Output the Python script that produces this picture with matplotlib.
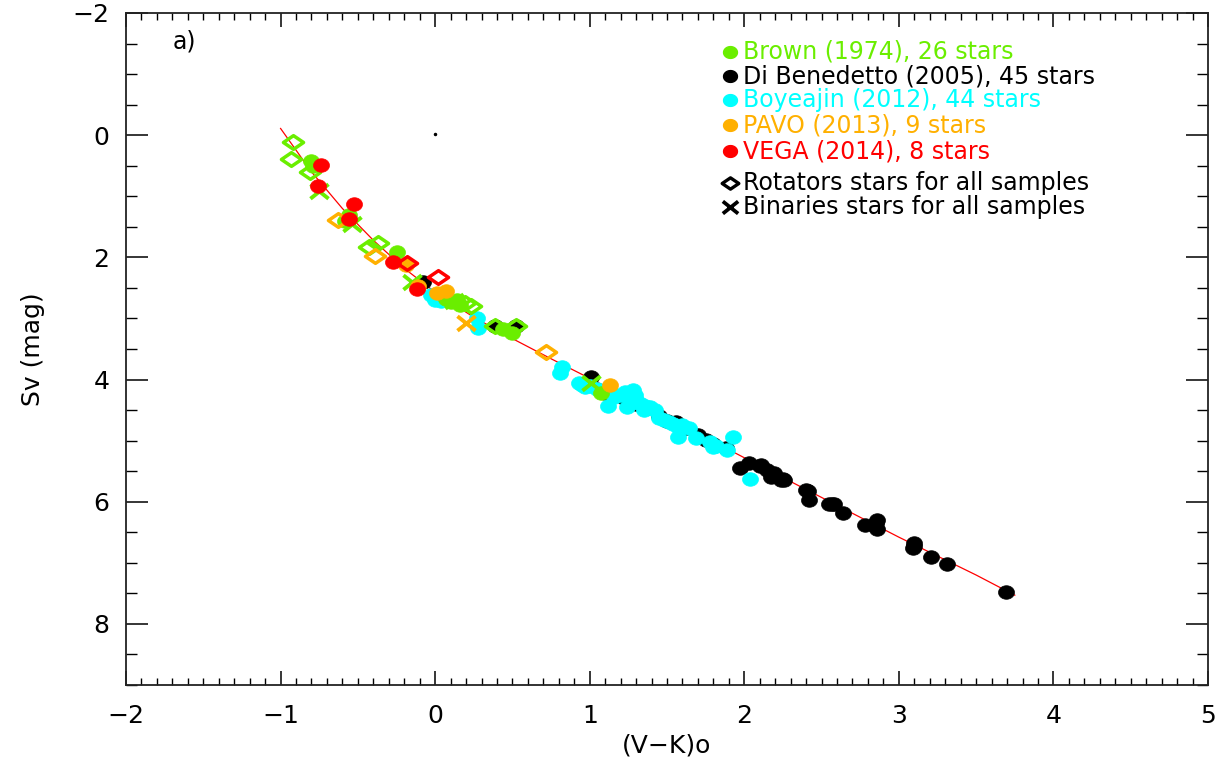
import numpy as np
import matplotlib
matplotlib.use("Agg")
import matplotlib.pyplot as plt
from matplotlib.path import Path
from matplotlib.ticker import MultipleLocator

plt.rcParams['font.family'] = ['DejaVu Sans']

# ---------------- data: (V-K)o colour and surface brightness Sv ----------------
# Brown (1974)
brown_dot_x = [-0.80, -0.56, -0.25, 0.14, 0.10, 0.50, 1.07, 0.44, 0.16, -0.58, -0.79, 0.07]
brown_dot_y = [0.42, 1.30, 1.91, 2.70, 2.73, 3.24, 4.22, 3.17, 2.78, 1.40, 0.50, 2.68]
brown_rot_x = [-0.92, -0.93, -0.81, -0.43, -0.37, 0.19, 0.39, 0.52, 0.23]
brown_rot_y = [0.11, 0.39, 0.61, 1.83, 1.76, 2.75, 3.12, 3.12, 2.80]
brown_bin_x = [-0.75, -0.15, 1.01, -0.54, 0.12]
brown_bin_y = [0.91, 2.40, 4.06, 1.45, 2.72]

# Di Benedetto (2005)
dib_dot_x = [-0.08, 0.39, 0.52, 1.01, 1.56, 1.75, 1.97, 2.03, 2.11, 2.15, 2.17, 2.19,
             2.24, 2.26, 2.40, 2.42, 2.55, 2.58, 2.64, 2.78, 2.86, 2.86, 3.10, 3.09,
             3.21, 3.31, 3.69, 2.10, 2.25, 2.41, 2.57, 2.85, 3.10,
             1.10, 1.22, 1.30, 1.37, 1.45, 1.50, 1.62, 1.70, 1.80, 1.88, 0.95, 1.27]
dib_dot_y = [2.40, 3.12, 3.12, 3.96, 4.69, 4.99, 5.45, 5.37, 5.40, 5.48, 5.59, 5.53,
             5.64, 5.64, 5.80, 5.97, 6.03, 6.03, 6.18, 6.38, 6.30, 6.44, 6.68, 6.76,
             6.90, 7.02, 7.47, 5.42, 5.62, 5.82, 6.04, 6.35, 6.72,
             4.22, 4.30, 4.40, 4.47, 4.60, 4.68, 4.80, 4.90, 5.05, 5.12, 4.08, 4.35]

# Boyeajin (2012)
boy_dot_x = [-0.03, 0.00, 0.04, 0.27, 0.28, 0.82, 0.81, 0.93, 0.95, 0.97, 1.12, 1.24,
             1.28, 1.30, 1.35, 1.26, 1.20, 1.16, 1.29, 1.33, 1.39, 1.42, 1.45, 1.51,
             1.54, 1.57, 1.57, 1.64, 1.69, 1.78, 1.80, 1.89, 1.93, 2.04, 1.00, 1.05,
             1.23, 1.48, 1.82, 1.27, 0.02, 1.36, 1.60, 1.14]
boy_dot_y = [2.62, 2.70, 2.72, 3.00, 3.16, 3.79, 3.89, 4.05, 4.09, 4.13, 4.43, 4.45,
             4.17, 4.33, 4.50, 4.31, 4.25, 4.28, 4.25, 4.40, 4.45, 4.50, 4.63, 4.69,
             4.72, 4.77, 4.94, 4.80, 4.96, 5.02, 5.10, 5.15, 4.94, 5.63, 4.10, 4.15,
             4.20, 4.66, 5.08, 4.38, 2.66, 4.43, 4.75, 4.20]

# PAVO (2013)
pavo_dot_x = [0.01, 0.07, 1.13, -0.19, -0.11]
pavo_dot_y = [2.59, 2.55, 4.09, 2.12, 2.47]
pavo_rot_x = [-0.63, -0.39, 0.72]
pavo_rot_y = [1.39, 1.98, 3.55]
pavo_bin_x = [0.20]
pavo_bin_y = [3.08]

# VEGA (2014)
vega_dot_x = [-0.74, -0.76, -0.525, -0.56, -0.27, -0.12]
vega_dot_y = [0.49, 0.83, 1.13, 1.37, 2.07, 2.51]
vega_rot_x = [-0.18, 0.02]
vega_rot_y = [2.10, 2.32]

# surface-brightness relation (fitted curve)
fit_x = [-1.00, -0.80, -0.60, -0.40, -0.20, 0.00, 0.25, 0.50, 0.75, 1.00,
         1.50, 2.00, 2.50, 3.00, 3.50, 3.75]
fit_y = [-0.11, 0.60, 1.20, 1.72, 2.18, 2.57, 2.98, 3.33, 3.66, 3.98,
         4.62, 5.28, 5.93, 6.58, 7.20, 7.53]

legend_labels = ["Brown (1974), 26 stars", "Di Benedetto (2005), 45 stars",
                 "Boyeajin (2012), 44 stars", "PAVO (2013), 9 stars",
                 "VEGA (2014), 8 stars"]

GREEN = "#6aee00"
BLACK = "#000000"
CYAN = "#00ffff"
ORANGE = "#ffb000"
RED = "#ff0000"

# ---------------- marker shapes (slightly wider than tall) ----------------
t = np.linspace(0, 2 * np.pi, 40)
ELLIPSE = Path(np.column_stack([np.cos(t), 0.85 * np.sin(t)]), closed=True)
DIAMOND = Path([(-1, 0), (0, 0.68), (1, 0), (0, -0.68), (-1, 0)], closed=True)
CROSS = Path([(-1, -0.8), (1, 0.8), (-1, 0.8), (1, -0.8)],
             [Path.MOVETO, Path.LINETO, Path.MOVETO, Path.LINETO])

fig = plt.figure(figsize=(12.18, 7.61), dpi=100)
ax = fig.add_axes([0.10345, 0.09987, 0.88834, 0.88305])


def dots(x, y, c, **kw):
    ax.plot(x, y, ls="none", marker=ELLIPSE, ms=11.5, mfc=c, mec=c, mew=0.5, **kw)


def rots(x, y, c, **kw):
    ax.plot(x, y, ls="none", marker=DIAMOND, ms=14.5, mfc="none", mec=c, mew=2.5, **kw)


def bins(x, y, c, **kw):
    ax.plot(x, y, ls="none", marker=CROSS, ms=13, mfc="none", mec=c, mew=2.8, **kw)


ax.plot(fit_x, fit_y, color=RED, lw=0.9, zorder=1)

dots(dib_dot_x, dib_dot_y, BLACK, zorder=2)
dots(boy_dot_x, boy_dot_y, CYAN, zorder=3)
dots(brown_dot_x, brown_dot_y, GREEN, zorder=4)
rots(brown_rot_x, brown_rot_y, GREEN, zorder=4)
bins(brown_bin_x, brown_bin_y, GREEN, zorder=4)
dots(pavo_dot_x, pavo_dot_y, ORANGE, zorder=5)
rots(pavo_rot_x, pavo_rot_y, ORANGE, zorder=5)
bins(pavo_bin_x, pavo_bin_y, ORANGE, zorder=5)
dots(vega_dot_x, vega_dot_y, RED, zorder=6)
rots(vega_rot_x, vega_rot_y, RED, zorder=6)

# small stray mark near the origin
ax.plot([0.0], [-0.02], ls="none", marker="o", ms=1.5, color=BLACK)

# ---------------- axes ----------------
ax.set_xlim(-2, 5)
ax.set_ylim(9, -2)
ax.xaxis.set_major_locator(MultipleLocator(1))
ax.xaxis.set_minor_locator(MultipleLocator(0.1))
ax.yaxis.set_major_locator(MultipleLocator(2))
ax.yaxis.set_minor_locator(MultipleLocator(0.5))
ax.tick_params(axis="x", which="major", direction="in", length=10, width=1.1,
               top=True, labelsize=18, pad=14)
ax.tick_params(axis="x", which="minor", direction="in", length=5, width=1.0, top=True)
ax.tick_params(axis="y", which="major", direction="in", length=16, width=1.1,
               right=True, labelsize=18, pad=12)
ax.tick_params(axis="y", which="minor", direction="in", length=8, width=1.0, right=True)
for s in ax.spines.values():
    s.set_linewidth(1.3)
    s.set_color("#222222")

ax.set_xlabel("(V\u2212K)o", fontsize=18, labelpad=4)
ax.set_ylabel("Sv (mag)", fontsize=18, labelpad=20)

ax.text(0.043, 0.957, "a)", transform=ax.transAxes, fontsize=17, va="center", ha="left")

# ---------------- legend ----------------
leg_colors = [GREEN, BLACK, CYAN, ORANGE, RED]
leg_y = [0.942, 0.906, 0.870, 0.833, 0.794]
mx, tx = 0.5585, 0.5705
for lab, col, yy in zip(legend_labels, leg_colors, leg_y):
    ax.plot([mx], [yy], transform=ax.transAxes, ls="none", marker=ELLIPSE, ms=10,
            mfc=col, mec=col, clip_on=False)
    ax.text(tx, yy, lab, transform=ax.transAxes, color=col, fontsize=17,
            va="center", ha="left")
ax.plot([mx], [0.747], transform=ax.transAxes, ls="none", marker=DIAMOND, ms=12,
        mfc="none", mec=BLACK, mew=2.4, clip_on=False)
ax.text(tx, 0.747, "Rotators stars for all samples", transform=ax.transAxes,
        fontsize=17, va="center", ha="left")
ax.plot([mx], [0.711], transform=ax.transAxes, ls="none", marker=CROSS, ms=11,
        mfc="none", mec=BLACK, mew=2.7, clip_on=False)
ax.text(tx, 0.711, "Binaries stars for all samples", transform=ax.transAxes,
        fontsize=17, va="center", ha="left")

fig.savefig("out.png", dpi=100)
